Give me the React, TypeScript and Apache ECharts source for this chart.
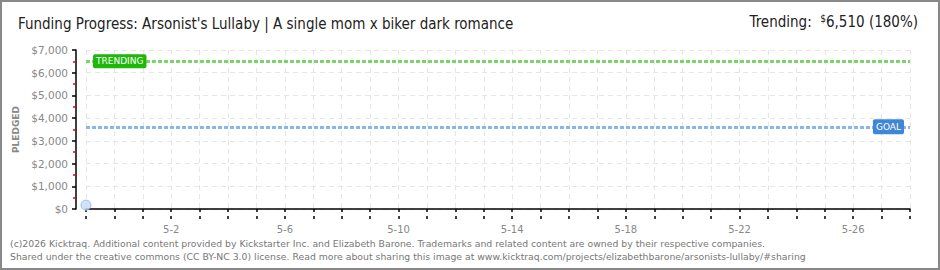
import React, { useEffect, useRef } from "react";
import * as echarts from "echarts";

const days = [
  "4-29", "4-30", "5-1", "5-2", "5-3", "5-4", "5-5", "5-6", "5-7", "5-8",
  "5-9", "5-10", "5-11", "5-12", "5-13", "5-14", "5-15", "5-16", "5-17", "5-18",
  "5-19", "5-20", "5-21", "5-22", "5-23", "5-24", "5-25", "5-26", "5-27", "5-28",
];
const labelledDays = ["5-2", "5-6", "5-10", "5-14", "5-18", "5-22", "5-26"];
const pledgedDays = ["4-29"];
const pledgedValues = [170];
const goal = 3617;
const trending = 6510;
const trendingPct = 180;
const yTicks = [0, 1000, 2000, 3000, 4000, 5000, 6000, 7000];

const title = "Funding Progress: Arsonist's Lullaby | A single mom x biker dark romance";
const footer1 =
  "(c)2026 Kicktraq. Additional content provided by Kickstarter Inc. and Elizabeth Barone. Trademarks and related content are owned by their respective companies.";
const footer2 =
  "Shared under the creative commons (CC BY-NC 3.0) license. Read more about sharing this image at www.kicktraq.com/projects/elizabethbarone/arsonists-lullaby/#sharing";

const fmt = (v: number) => "$" + v.toLocaleString("en-US");

export default function App() {
  const ref = useRef<HTMLDivElement>(null);
  useEffect(() => {
    document.body.style.margin = "0";
    const chart = echarts.init(ref.current!, null, { renderer: "svg" });
    const narrow = "'Liberation Sans Narrow', 'DejaVu Sans Condensed', sans-serif";
    const small = "'DejaVu Sans', Verdana, sans-serif";
    const xBase = {
      type: "category" as const,
      data: days,
      boundaryGap: false,
      position: "bottom" as const,
      offset: 10,
    };
    chart.setOption({
      animation: false,
      backgroundColor: "#ffffff",
      grid: { left: 86, right: 30, top: 50, bottom: 61 },
      xAxis: [
        {
          ...xBase,
          axisLine: { show: true, lineStyle: { color: "#000", width: 1.5 } },
          axisTick: { show: true, interval: 0, length: 3, lineStyle: { color: "#000", width: 1.5 } },
          axisLabel: {
            interval: (i: number, v: string) => labelledDays.includes(v),
            color: "#888",
            fontSize: 10,
            fontFamily: small,
            margin: 5,
          },
          splitLine: {
            show: true,
            interval: 0,
            lineStyle: { color: "#e6e6e6", type: [5, 4], width: 1 },
          },
        },
        {
          ...xBase,
          axisLine: { show: false },
          axisTick: { show: true, inside: true, interval: 0, length: 3, lineStyle: { color: "#000", width: 1.5 } },
          axisLabel: { show: false },
          splitLine: { show: false },
        },
      ],
      yAxis: {
        type: "value",
        min: 0,
        max: yTicks[yTicks.length - 1],
        interval: 1000,
        offset: 10,
        name: "PLEDGED",
        nameLocation: "middle",
        nameGap: 51,
        nameTextStyle: { color: "#888", fontSize: 9, fontFamily: small, fontWeight: "bold", letterSpacing: 2.5 } as any,
        axisLine: { show: true, lineStyle: { color: "#000", width: 1.5 } },
        axisTick: { show: true, length: 4, lineStyle: { color: "#000", width: 1.5 } },
        minorTick: { show: true, splitNumber: 2, length: 3, lineStyle: { color: "#e00000", width: 1.5 } },
        axisLabel: {
          formatter: (v: number) => fmt(v),
          color: "#888",
          fontSize: 10.5,
          fontFamily: small,
          margin: 8,
        },
        splitLine: { show: true, lineStyle: { color: "#e6e6e6", type: [5, 4], width: 1 } },
      },
      series: [
        {
          type: "scatter",
          data: pledgedDays.map((d, i) => [d, pledgedValues[i]]),
          symbol: "circle",
          symbolSize: 10,
          itemStyle: { color: "#c7dcf6", borderColor: "#8fb2e0", borderWidth: 1 },
          z: 5,
          markLine: {
            silent: true,
            symbol: "none",
            data: [
              {
                yAxis: trending,
                lineStyle: { color: "#7ed36b", width: 3, type: [4, 2] },
                label: {
                  show: true,
                  position: "insideStart",
                  distance: 7,
                  formatter: "TRENDING",
                  color: "#fff",
                  fontSize: 9,
                  fontFamily: small,
                  backgroundColor: "#1fb80a",
                  padding: [3, 3, 2, 3],
                  borderRadius: 2,
                },
              },
              {
                yAxis: goal,
                lineStyle: { color: "#8ab6e8", width: 3, type: [4, 2] },
                label: {
                  show: true,
                  position: "insideEnd",
                  distance: 6,
                  formatter: "GOAL",
                  color: "#fff",
                  fontSize: 9,
                  fontFamily: small,
                  backgroundColor: "#3f87d6",
                  padding: [3, 3, 3, 3],
                  borderRadius: 2,
                },
              },
            ],
          },
        },
      ],
      graphic: [
        {
          type: "rect",
          shape: { x: 1, y: 1, width: 938, height: 268 },
          style: { fill: "none", stroke: "#888", lineWidth: 2 },
          silent: true,
        },
        {
          type: "text",
          x: 18,
          y: 24,
          style: { text: title, fill: "#222", font: `15px ${narrow}`, textVerticalAlign: "middle" },
        },
        {
          type: "text",
          x: 918,
          y: 22,
          style: {
            text: `{a|Trending:  }{s|$}{a|${trending.toLocaleString("en-US")} (${trendingPct}%)}`,
            align: "right",
            verticalAlign: "middle",
            rich: {
              a: { fill: "#222", font: `15px ${narrow}` },
              s: { fill: "#222", font: `10px ${narrow}`, padding: [0, 0, 7, 0] },
            },
          } as any,
        },
        {
          type: "text",
          x: 10,
          y: 243,
          style: { text: footer1, fill: "#777", font: `9.3px ${small}`, textVerticalAlign: "middle" },
        },
        {
          type: "text",
          x: 10,
          y: 256,
          style: { text: footer2, fill: "#777", font: `9.3px ${small}`, textVerticalAlign: "middle" },
        },
      ],
    });
    return () => chart.dispose();
  }, []);
  return <div ref={ref} style={{ width: 940, height: 270, position: "fixed", left: 0, top: 0 }} />;
}
